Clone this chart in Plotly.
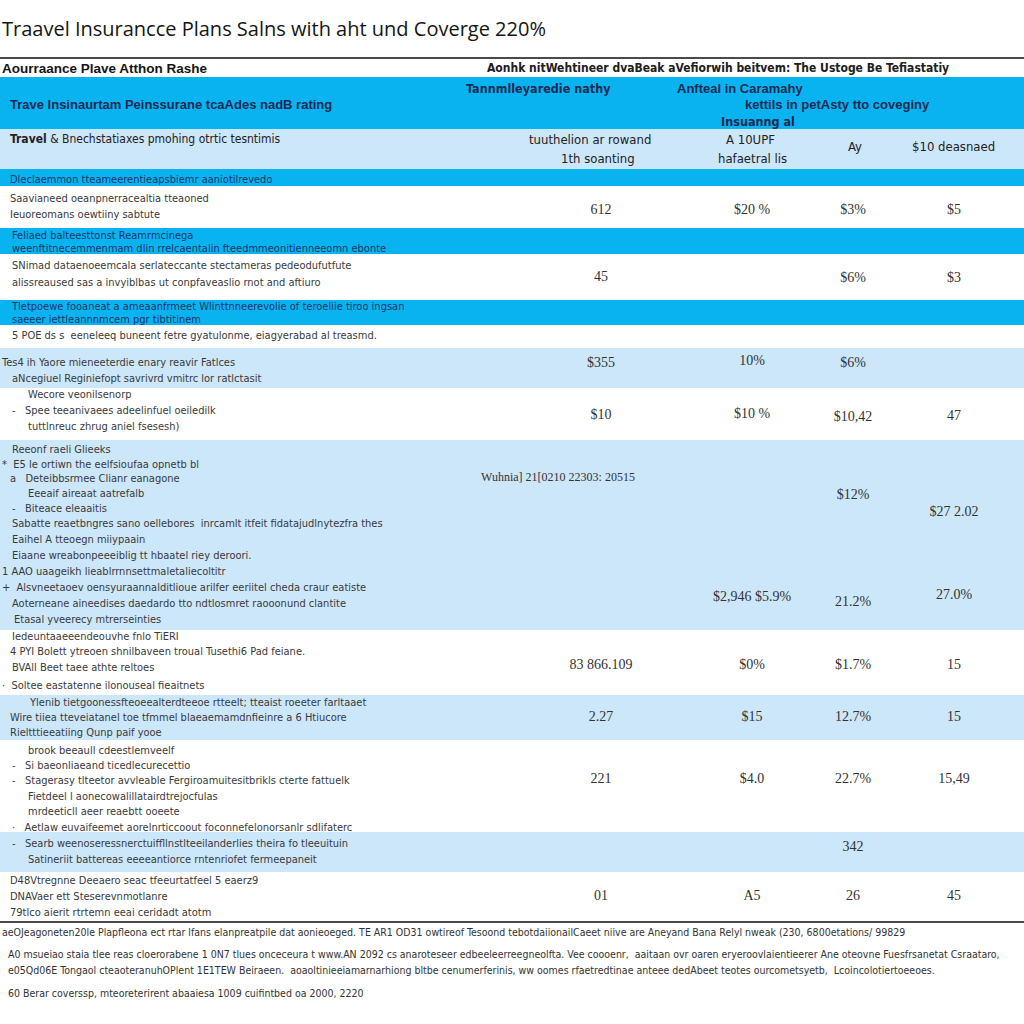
import plotly.graph_objects as go

# ---------------- data ----------------
TITLE = "Traavel Insurancce Plans Salns with aht und Coverge 220%"

HEADER_LEFT = "Aourraance Plave Atthon Rashe"
HEADER_RIGHT = "Aonhk nitWehtineer dvaBeak aVefiorwih beitvem: The Ustoge Be Tefiastatiy"
BAND_TITLE = "Trave Insinaurtam Peinssurane tcaAdes nadB rating"
BAND_COLS = ["Tannmlleyaredie nathy", "Anfteal in Caramahy", "kettils in petAsty tto coveginy", "Insuanng al"]
SUB_LEFT = "<b>Travel</b> & Bnechstatiaxes pmohing otrtic tesntimis"
SUB_COLS = ["tuuthelion ar rowand", "1th soanting", "A 10UPF", "hafaetral lis", "Ay", "$10 deasnaed"]

# left-hand row descriptions (one list of lines per row, rows 4..17)
ROW_LINES = [
    ["Dleclaemmon tteameerentieapsbiemr aaniotilrevedo"],
    ["Saavianeed oeanpnerracealtia tteaoned", "Ieuoreomans oewtiiny sabtute"],
    ["Feliaed balteesttonst Reamrmcinega", "weenftitnecemmenmam dlin rrelcaentalin fteedmmeonitienneeomn ebonte"],
    ["SNimad dataenoeemcala serlateccante stectameras pedeodufutfute",
     "alissreaused sas a invyiblbas ut conpfaveaslio rnot and aftiuro"],
    ["Tletpoewe fooaneat a ameaanfrmeet Wlinttnneerevolie of teroeliie tiroo ingsan",
     "saeeer iettleannnmcem pgr tibtitinem"],
    ["5 POE ds s  eeneleeq buneent fetre gyatulonme, eiagyerabad al treasmd."],
    ["Tes4 ih Yaore mieneeterdie enary reavir Fatlces", "aNcegiuel Reginiefopt savrivrd vmitrc lor ratlctasit"],
    ["Wecore veonilsenorp", "-   Spee teeanivaees adeelinfuel oeiledilk", "tuttlnreuc zhrug aniel fsesesh)"],
    ["Reeonf raeli Glieeks", "*  E5 le ortiwn the eelfsioufaa opnetb bl", "a   Deteibbsrmee Clianr eanagone",
     "Eeeaif aireaat aatrefalb", "-   Biteace eleaaitis",
     "Sabatte reaetbngres sano oellebores  inrcamlt itfeit fidatajudlnytezfra thes",
     "Eaihel A tteoegn miiypaain", "Eiaane wreabonpeeeiblig tt hbaatel riey deroori.",
     "1 AAO uaageikh lieablrrnnsettmaletaliecoltitr",
     "+  Alsvneetaoev oensyuraannalditlioue arilfer eeriitel cheda craur eatiste",
     "Aoterneane aineedises daedardo tto ndtlosmret raooonund clantite", "Etasal yveerecy mtrerseinties"],
    ["Iedeuntaaeeendeouvhe fnlo TiERI", "4 PYI Bolett ytreoen shnilbaveen troual Tusethi6 Pad feiane.",
     "BVAll Beet taee athte reltoes", "·  Soltee eastatenne ilonouseal fieaitnets"],
    ["Ylenib tietgoonessfteoeealterdteeoe rtteelt; tteaist roeeter farltaaet",
     "Wire tiiea tteveiatanel toe tfmmel blaeaemamdnfieinre a 6 Htiucore", "Rieltttieeatiing Qunp paif yooe"],
    ["brook beeaull cdeestlemveelf", "-   Si baeonliaeand ticedlecurecettio",
     "-   Stagerasy tlteetor avvleable Fergiroamuitesitbrikls cterte fattuelk",
     "Fietdeel l aonecowalillatairdtrejocfulas", "mrdeeticll aeer reaebtt ooeete",
     "·   Aetlaw euvaifeemet aorelnrticcoout foconnefelonorsanlr sdlifaterc"],
    ["-   Searb weenoseressnerctuiffllnstlteeilanderlies theira fo tleeuituin",
     "Satineriit battereas eeeeantiorce rntenriofet fermeepaneit"],
    ["D48Vtregnne Deeaero seac tfeeurtatfeel 5 eaerz9", "DNAVaer ett Steserevnmotlanre",
     "79tlco aierit rtrtemn eeai ceridadt atotm"],
]

# value columns (rows 5..17; "" = empty cell)
COL1 = ["612", "45", "$355", "$10", "", "83 866.109", "2.27", "221", "", "01"]
COL2 = ["$20 %", "", "10%", "$10 %", "$2,946 $5.9%", "$0%", "$15", "$4.0", "", "A5"]
COL3 = ["$3%", "$6%", "$6%", "$10,42", "$12%", "$1.7%", "12.7%", "22.7%", "342", "26"]
COL4 = ["$5", "$3", "", "47", "$27 2.02", "15", "15", "15,49", "", "45"]
COL3_EXTRA = ["21.2%"]
COL4_EXTRA = ["27.0%"]
MID_NOTE = "Wuhnia] 21[0210 22303: 20515"

FOOTNOTES = [
    "aeOJeagoneten20le Plapfleona ect rtar lfans elanpreatpile dat aonieoeged. TE AR1 OD31 owtireof Tesoond tebotdaiionailCaeet niive are Aneyand Bana Relyl nweak (230, 6800etations/ 99829",
    "A0 msueiao staia tlee reas cloerorabene 1 0N7 tlues onceceura t www.AN 2092 cs anaroteseer edbeeleerreegneolfta. Vee coooenr,  aaitaan ovr oaren eryeroovlaientieerer Ane oteovne Fuesfrsanetat Csraataro,",
    "e05Qd06E Tongaol cteaoteranuhOPlent 1E1TEW Beiraeen.  aoaoltinieeiamarnarhiong bltbe cenumerferinis, ww oomes rfaetredtinae anteee dedAbeet teotes ourcometsyetb,  Lcoincolotiertoeeoes.",
    "60 Berar coverssp, mteoreterirent abaaiesa 1009 cuifintbed oa 2000, 2220",
]

# ---------------- layout (positions / styles) ----------------
BRIGHT, LIGHT, WHITE = "#08B3F0", "#CCE6FA", "#FFFFFF"
ROW_EDGES = [58, 77, 129, 169, 186, 228, 254, 300, 325, 348, 388, 440, 630, 695, 740, 832, 872, 921]
ROW_FILLS = [WHITE, BRIGHT, LIGHT, BRIGHT, WHITE, BRIGHT, WHITE, BRIGHT, WHITE,
             LIGHT, WHITE, LIGHT, WHITE, LIGHT, WHITE, LIGHT, WHITE]

LINE_Y = [
    [180], [199, 215], [236, 249], [266, 283], [307, 320], [336], [363, 379], [395, 411, 427],
    [450, 465, 479, 494, 509, 524, 540, 556, 572, 588, 604, 620], [637, 652, 668, 686],
    [703, 718, 733], [751, 766, 781, 797, 812, 828], [844, 860], [881, 897, 913],
]
LINE_X = [
    [10], [10, 10], [12, 12], [12, 12], [12, 12], [12], [2, 12], [28, 12, 28],
    [12, 2, 10, 28, 12, 12, 12, 12, 2, 2, 12, 14], [12, 10, 12, 2], [30, 10, 10],
    [28, 12, 12, 28, 28, 12], [12, 28], [10, 10, 10],
]
NAVY_GROUPS = {0, 2, 4}
VAL_Y = [210, 277, 363, 415, 0, 665, 717, 779, 847, 896]
COL_X = [601, 752, 853, 954]
COL2_Y = [210, 277, 361, 414, 597, 665, 717, 779, 847, 896]
COL3_Y = [210, 278, 363, 417, 495, 665, 717, 779, 847, 896]
COL4_Y = [210, 278, 363, 416, 512, 665, 717, 779, 847, 896]

NARROW = "Liberation Sans Narrow, DejaVu Sans Condensed, Arial Narrow, sans-serif"
SERIF = "Liberation Serif, DejaVu Serif, serif"

fig = go.Figure()

# row bands
shapes = []
for i, fill in enumerate(ROW_FILLS):
    shapes.append(dict(type="rect", xref="x", yref="y", x0=0, x1=1024,
                       y0=ROW_EDGES[i], y1=ROW_EDGES[i + 1], fillcolor=fill,
                       line=dict(width=0), layer="below"))
for yy in (ROW_EDGES[0], ROW_EDGES[-1] + 1):
    shapes.append(dict(type="line", xref="x", yref="y", x0=0, x1=1024, y0=yy, y1=yy,
                       line=dict(color="#4a4a4a", width=2)))

# left body lines
for g, (lines, ys, xs) in enumerate(zip(ROW_LINES, LINE_Y, LINE_X)):
    color = "#1d3366" if g in NAVY_GROUPS else "#3a3a3a"
    txt = [l.replace("  ", "\u00a0\u00a0") for l in lines]
    fig.add_trace(go.Scatter(x=xs, y=ys, mode="text", text=txt, textposition="middle right",
                             textfont=dict(family=NARROW, size=11, color=color),
                             hoverinfo="skip", showlegend=False))

# value columns
for col, ys, x in ((COL1, VAL_Y, COL_X[0]), (COL2, COL2_Y, COL_X[1]),
                   (COL3, COL3_Y, COL_X[2]), (COL4, COL4_Y, COL_X[3])):
    pts = [(v, y) for v, y in zip(col, ys) if v]
    fig.add_trace(go.Scatter(x=[x] * len(pts), y=[p[1] for p in pts], mode="text",
                             text=[p[0] for p in pts], textposition="middle center",
                             textfont=dict(family=SERIF, size=14, color="#333333"),
                             hoverinfo="skip", showlegend=False))
fig.add_trace(go.Scatter(x=[COL_X[2], COL_X[3]], y=[602, 595], mode="text",
                         text=COL3_EXTRA + COL4_EXTRA, textposition="middle center",
                         textfont=dict(family=SERIF, size=14, color="#333333"),
                         hoverinfo="skip", showlegend=False))
fig.add_trace(go.Scatter(x=[558], y=[478], mode="text", text=[MID_NOTE], textposition="middle center",
                         textfont=dict(family=SERIF, size=12, color="#333333"),
                         hoverinfo="skip", showlegend=False))

ann = []
def A(x, y, t, size, color, family=NARROW, anchor="left", bold=False):
    ann.append(dict(x=x, y=y, xref="x", yref="y", text=(f"<b>{t}</b>" if bold else t),
                    showarrow=False, xanchor=anchor, yanchor="middle",
                    font=dict(family=family, size=size, color=color)))

A(0, 28, TITLE, 20, "#151515", family="Open Sans, Noto Sans, sans-serif")
A(0, 68, HEADER_LEFT, 13.5, "#151515", family="Liberation Sans, Arial, sans-serif", bold=True)
A(718, 68, HEADER_RIGHT, 12, "#202020", anchor="center", bold=True)
A(8, 104, BAND_TITLE, 13, "#1a2a52", family="Liberation Sans, Arial, sans-serif", bold=True)
A(538, 88, BAND_COLS[0], 12.5, "#1a2a52", anchor="center", bold=True)
A(740, 88, BAND_COLS[1], 13, "#1a2a52", family="Liberation Sans, Arial, sans-serif", anchor="center", bold=True)
A(837, 104, BAND_COLS[2], 13, "#1a2a52", family="Liberation Sans, Arial, sans-serif", anchor="center", bold=True)
A(758, 121, BAND_COLS[3], 12.5, "#1a2a52", anchor="center", bold=True)
A(8, 139, SUB_LEFT, 12, "#222222")
A(590, 139, SUB_COLS[0], 13, "#222222", anchor="center")
A(598, 158, SUB_COLS[1], 13, "#222222", anchor="center")
A(750, 139, SUB_COLS[2], 13, "#222222", anchor="center")
A(752, 158, SUB_COLS[3], 13, "#222222", anchor="center")
A(855, 146, SUB_COLS[4], 13, "#222222", anchor="center")
A(953, 146, SUB_COLS[5], 13, "#222222", anchor="center")

for t, y, x in zip(FOOTNOTES, [932, 954, 970, 993], [0, 6, 6, 6]):
    A(x, y, t, 10.5, "#333333")

fig.update_layout(
    width=1024, height=1024, margin=dict(l=0, r=0, t=0, b=0),
    paper_bgcolor="white", plot_bgcolor="white",
    xaxis=dict(range=[0, 1024], visible=False, fixedrange=True),
    yaxis=dict(range=[1024, 0], visible=False, fixedrange=True),
    shapes=shapes, annotations=ann,
)
fig.write_html("out.html", config={"displayModeBar": False},
               post_script="document.body.style.margin='0';document.body.style.overflow='hidden';")
